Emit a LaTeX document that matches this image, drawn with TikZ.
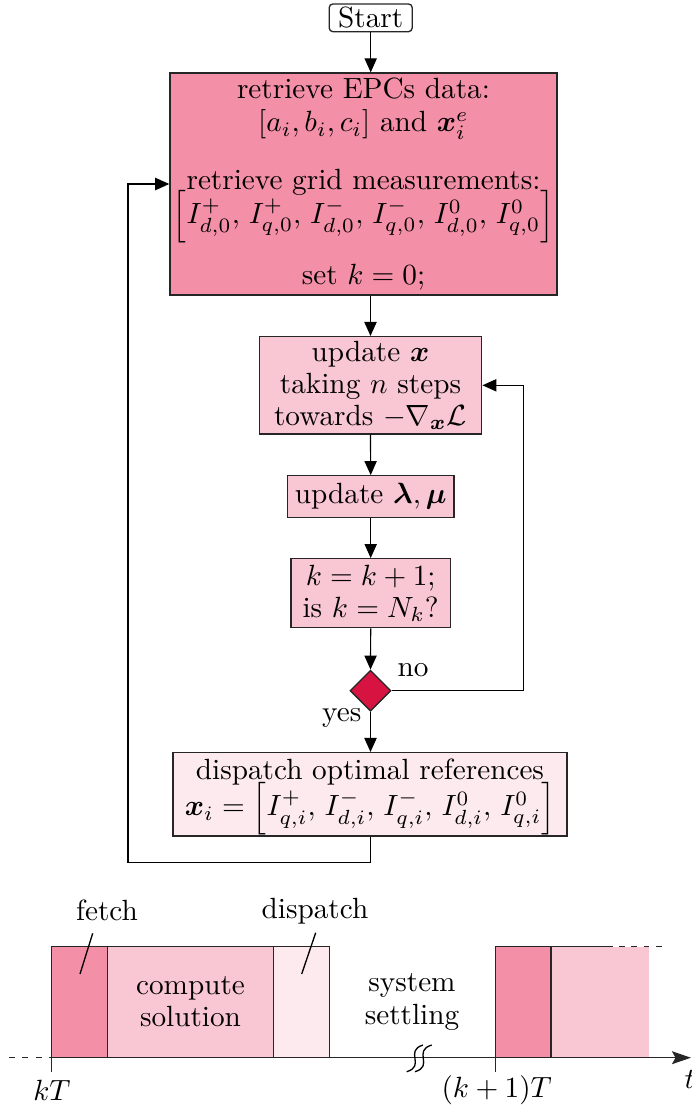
\documentclass[tikz,border=0pt]{standalone}
\usepackage{amsmath,amssymb,bm}
\usetikzlibrary{shapes.geometric,arrows.meta,calc}
\definecolor{cdark}{RGB}{244,143,168}
\definecolor{cmid}{RGB}{249,198,211}
\definecolor{clight}{RGB}{252,234,238}
\definecolor{cdiam}{RGB}{215,20,65}
% comma with a little extra room, used in the current vectors
\newcommand{\isep}{,\mskip2.5mu}
% fixed baselines, lines are never pushed apart by tall content
\newcommand{\tightlines}{\lineskiplimit -30pt\relax\lineskip 0pt\relax}
\begin{document}
\begin{tikzpicture}[x=0.342pt,y=-0.342pt,
  every node/.style={font=\fontsize{10}{11}\selectfont},
  flow/.style={draw=black!85, line width=0.45pt, align=center, inner sep=0pt},
  arr/.style={-{Triangle[length=4.8pt,width=4.2pt]}, line width=0.4pt},
  edge line/.style={line width=0.45pt, draw=black!85},
  lbl/.style={inner sep=0pt}]
\useasboundingbox (0,0) rectangle (691,1108);

% ---------- flowchart ----------
\node[flow, rounded corners=1.3pt, minimum width=28.4pt, minimum height=9.5pt] (start) at (370.7,17.8) {Start};
\node[flow, fill=cdark, minimum width=132.4pt, minimum height=75.9pt,
      font={\fontsize{10}{11.6}\selectfont\tightlines}] (main) at (363.5,184)
  {retrieve EPCs data:\\ $[a_i,b_i,c_i]$ and $\bm{x}_i^e$\\[8.2pt]
   retrieve grid measurements:\\
   $\left[I^+_{d,0}\isep I^+_{q,0}\isep I^-_{d,0}\isep I^-_{q,0}\isep I^0_{d,0}\isep I^0_{q,0}\right]$\\[9.3pt]
   set $k=0$;};
\node[flow, fill=cmid, minimum width=76.1pt, minimum height=33.3pt] (updx) at (370.5,385.3)
  {update $\bm{x}$\\ taking $n$ steps\\ towards $-\nabla_{\bm{x}}\mathcal{L}$};
\node[flow, fill=cmid, minimum width=57pt, minimum height=14.2pt] (updl) at (370.7,496.5)
  {update $\bm{\lambda},\bm{\mu}$};
\node[flow, fill=cmid, minimum width=54.5pt, minimum height=23.6pt] (kbox) at (370.7,593.2)
  {$k=k+1$;\\ is $k=N_k$?};
\node[flow, diamond, aspect=1, fill=cdiam, minimum width=14pt, minimum height=14pt] (dec) at (370.5,690.7) {};
\node[flow, fill=clight, minimum width=134.7pt, minimum height=28.5pt,
      font={\fontsize{10}{12.3}\selectfont\tightlines}] (disp) at (370,794.3)
  {\rule{0pt}{9pt}dispatch optimal references\\
   $\bm{x}_i=\left[I^+_{q,i}\isep I^-_{d,i}\isep I^-_{q,i}\isep I^0_{d,i}\isep I^0_{q,i}\right]$};

\node[lbl] (no) at (413,670) {no};
\node[lbl] (yes) at (341.7,718) {yes};

\draw[arr] (start.south) -- (start.south |- main.north);
\draw[arr] (updx |- main.south) -- (updx.north);
\draw[arr] (updx.south) -- (updl.north);
\draw[arr] (updl.south) -- (kbox.north);
\draw[arr] (kbox.south) -- (dec.north);
\draw[arr] (dec.south) -- (dec.south |- disp.north);
\coordinate (noturn) at (523.3,690.7);
\draw[arr] (dec.east) -- (noturn) |- (updx.east);
\coordinate (loopturn) at (128,862.7);
\draw[arr] (dec.south |- disp.south) |- (loopturn) |- (main.west);

% ---------- timing diagram ----------
\draw[edge line, fill=cdark] (51.7,946.7) rectangle (107.3,1057.7);
\draw[edge line, fill=cmid] (107.3,946.7) rectangle (273.7,1057.7);
\draw[edge line, fill=clight] (273.7,946.7) rectangle (329.3,1057.7);
\fill[cmid] (551,946.7) rectangle (649,1057.7);
\draw[edge line, fill=cdark] (495.7,946.7) rectangle (551,1057.7);
\draw[edge line] (551,946.7) -- (606.7,946.7);
\draw[edge line, dash pattern=on 2pt off 2.2pt] (606.7,946.7) -- (661.7,946.7);

% time axis
\draw[edge line, dash pattern=on 2pt off 2.6pt] (9,1057.7) -- (51.7,1057.7);
\draw[edge line, -{Stealth[length=6.5pt,width=4.4pt,inset=1.2pt]}] (51.7,1057.7) -- (691,1057.7);
\draw[edge line] (51.7,1057.7) -- (51.7,1071.7);
\draw[edge line] (495.7,1057.7) -- (495.7,1071.7);
% axis break
\draw[line width=0.45pt] (406.7,1071.7) .. controls (426,1066) and (404,1051) .. (423,1045);
\draw[line width=0.45pt] (415,1071.7) .. controls (434.3,1066) and (412.3,1051) .. (431.7,1045);

\node[lbl] (kT) at (52,1090) {$kT$};
\node[lbl] (k1T) at (496.7,1090) {$(k+1)T$};
\node[lbl, anchor=west] (tlab) at (684,1079) {$t$};

\node[lbl] (fetch) at (107,910.7) {fetch};
\node[lbl] (displ) at (315,910.7) {dispatch};
\draw[line width=0.45pt] (92.7,933.3) -- (80,974);
\draw[line width=0.45pt] (315.7,932.7) -- (301.7,974);
\node[lbl, align=center] (comp) at (190.5,1002) {compute\\ solution};
\node[lbl, align=center] (settle) at (412,1002) {system\\ settling};
\end{tikzpicture}
\end{document}
